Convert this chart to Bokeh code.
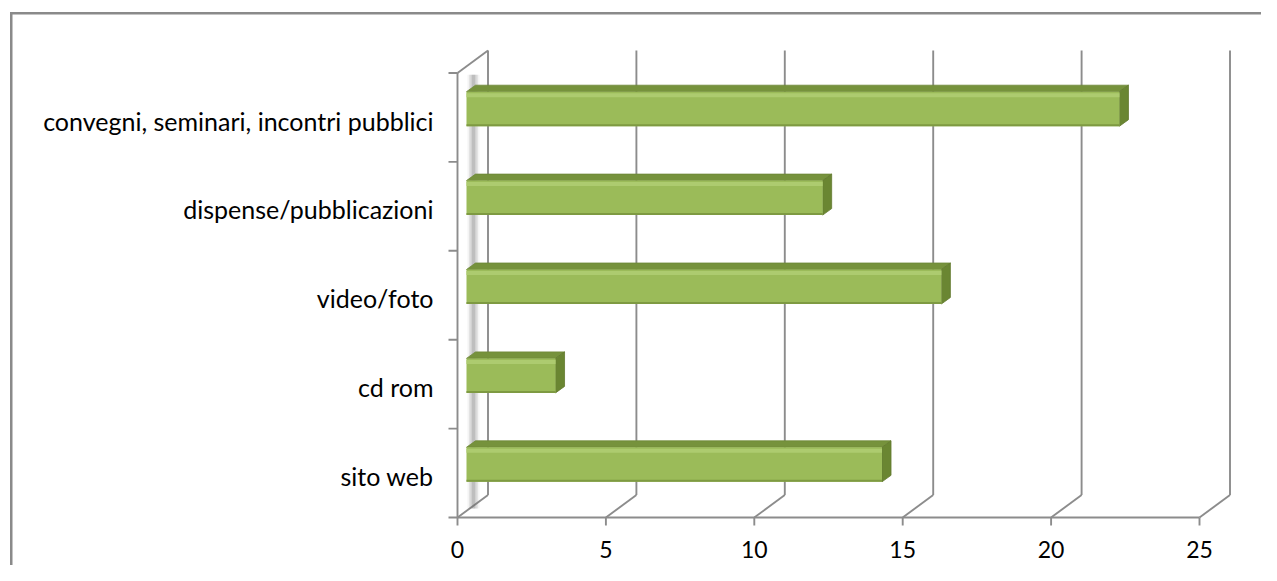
from bokeh.plotting import figure
from bokeh.models import Range1d, FixedTicker
from bokeh.core.properties import value
from bokeh.embed import file_html
from bokeh.resources import INLINE

# ---- data ----
categories = ["sito web", "cd rom", "video/foto", "dispense/pubblicazioni",
              "convegni, seminari, incontri pubblici"]
values = [14, 3, 16, 12, 22]
x_ticks = [0, 5, 10, 15, 20, 25]
x_tick_labels = ["0", "5", "10", "15", "20", "25"]

# ---- geometry (pixels per data unit, 3D offsets) ----
PXX = 29.68           # px per value unit
PXY = 88.9            # px per category slot
BACK_DX = 30.5 / PXX  # depth offset of the back wall
BACK_DY = 22.5 / PXY
BAR_X0 = 9.0 / PXX    # bar front face start
BAR_DY = 8.5 / PXY    # bar front face shift upward
BAR_H = 34.5 / PXY
DD_X = 9.0 / PXX      # bar depth
DD_Y = 6.5 / PXY
LABEL_SHIFT = 0.035
TICK_LEN = 8 / PXY
YTICK_LEN = 9 / PXX
XLABEL_BASE = 32 / PXY

GRID = "#8c8c8c"
FONT = "Lato"

W, H = 1261, 565
FRAME_L, FRAME_R, FRAME_T, FRAME_B = 440, 1261, 30, 565
ZERO_X, ZERO_Y = 457, 517

p = figure(width=W, height=H, output_backend="svg", toolbar_location=None,
           x_range=Range1d((FRAME_L - ZERO_X) / PXX, (FRAME_R - ZERO_X) / PXX),
           y_range=Range1d((ZERO_Y - FRAME_B) / PXY, (ZERO_Y - FRAME_T) / PXY),
           min_border_left=FRAME_L, min_border_right=W - FRAME_R,
           min_border_top=FRAME_T, min_border_bottom=H - FRAME_B,
           styles={
               "background-image": "linear-gradient(#8a8a8a, #8a8a8a), "
                                   "linear-gradient(#8a8a8a, #8a8a8a)",
               "background-size": "2.5px 700px, 1400px 2.5px",
               "background-position": "10px 12px, 10px 12px",
               "background-repeat": "no-repeat, no-repeat",
           })
p.xgrid.visible = False
p.ygrid.visible = False
p.xaxis.visible = False
p.outline_line_color = None
p.background_fill_color = "white"
p.border_fill_color = None

n = len(categories)
xmax = x_ticks[-1]
bounds = list(range(n + 1))

# ---- walls / floor lines ----
p.segment(x0=[t + BACK_DX for t in x_ticks], y0=[BACK_DY] * len(x_ticks),
          x1=[t + BACK_DX for t in x_ticks], y1=[n + BACK_DY] * len(x_ticks),
          line_color=GRID, line_width=1.9)
p.segment(x0=x_ticks, y0=[0] * len(x_ticks),
          x1=[t + BACK_DX for t in x_ticks], y1=[BACK_DY] * len(x_ticks),
          line_color=GRID, line_width=1.9)
p.segment(x0=[0, 0, 0], y0=[0, 0, n], x1=[xmax, 0, BACK_DX], y1=[0, n, n + BACK_DY],
          line_color=GRID, line_width=1.9)
# tick marks: below the floor edge and left of the wall edge
p.segment(x0=x_ticks, y0=[0] * len(x_ticks), x1=x_ticks, y1=[-TICK_LEN] * len(x_ticks),
          line_color=GRID, line_width=1.9)
p.segment(x0=[0] * len(bounds), y0=bounds, x1=[-YTICK_LEN] * len(bounds), y1=bounds,
          line_color=GRID, line_width=1.9)

# wall shadow strip
for (a, b, al) in [(10.0, 22.0, 0.08), (11.5, 20.5, 0.12), (13.0, 19.0, 0.16), (14.5, 17.5, 0.18)]:
    p.quad(left=[a / PXX], right=[b / PXX], bottom=[0.1], top=[n - 0.02],
           fill_color="#6e6e6e", fill_alpha=al, line_color=None)

# ---- bars ----
yc = [i + 0.5 + BAR_DY for i in range(n)]
bot = [c - BAR_H / 2 for c in yc]
top = [c + BAR_H / 2 for c in yc]
right = [BAR_X0 + v for v in values]

p.patches(xs=[[BAR_X0, r, r + DD_X, BAR_X0 + DD_X] for r in right],
          ys=[[t, t, t + DD_Y, t + DD_Y] for t in top],
          fill_color="#76923C", line_color="#6d8837", line_width=0.8)
p.patches(xs=[[r, r + DD_X, r + DD_X, r] for r in right],
          ys=[[b, b + DD_Y, t + DD_Y, t] for b, t in zip(bot, top)],
          fill_color="#6A8632", line_color="#62792e", line_width=0.8)
p.quad(left=[BAR_X0] * n, right=right, bottom=bot, top=top,
       fill_color="#9BBB59", line_color=None)
p.quad(left=[BAR_X0] * n, right=right, bottom=[t - 5.5 / PXY for t in top],
       top=[t - 1.5 / PXY for t in top],
       fill_color="#ADCB6F", line_color=None)
p.quad(left=[BAR_X0] * n, right=right, bottom=bot, top=[b + 2.0 / PXY for b in bot],
       fill_color="#7E9A42", line_color=None)

# ---- x tick labels ----
p.text(x=x_ticks, y=[-XLABEL_BASE] * len(x_ticks), text=x_tick_labels,
       text_align="center", text_baseline="alphabetic",
       text_font=value(FONT), text_font_size="23px", text_color="#000000")

# ---- category axis ----
label_pos = [i + 0.5 - LABEL_SHIFT for i in range(n)]
ya = p.yaxis[0]
ya.ticker = FixedTicker(ticks=label_pos, minor_ticks=bounds)
ya.major_label_overrides = {pos: name for pos, name in zip(label_pos, categories)}
ya.axis_line_color = None
ya.major_tick_line_color = None
ya.minor_tick_line_color = None
ya.major_tick_out = 0
ya.major_tick_in = 0
ya.minor_tick_out = 0
ya.minor_tick_in = 0
ya.major_label_standoff = 7
ya.major_label_text_font = FONT
ya.major_label_text_font_size = "25px"
ya.major_label_text_color = "#000000"

open("out.html", "w").write(file_html(p, INLINE))
